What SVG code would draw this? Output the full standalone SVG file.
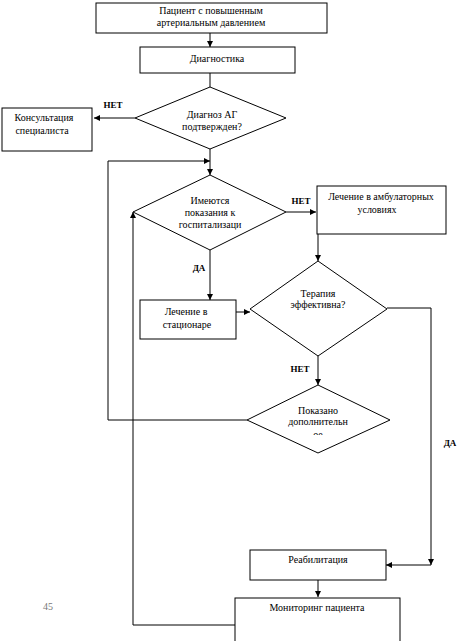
<svg xmlns="http://www.w3.org/2000/svg" width="463" height="641" viewBox="0 0 463 641">
<style>
.s{fill:#fff;stroke:#000;stroke-width:1}
.t{font-family:"Liberation Serif","Times New Roman","DejaVu Serif",serif;font-size:10px;fill:#000;text-anchor:middle}
.l{font-family:"Liberation Serif","Times New Roman","DejaVu Serif",serif;font-size:9px;font-weight:bold;fill:#000;text-anchor:middle}
.c{fill:none;stroke:#000;stroke-width:1}
</style>
<defs>
<marker id="a" markerWidth="6" markerHeight="6" refX="6" refY="3" orient="auto" markerUnits="userSpaceOnUse"><path d="M0,0L6,3L0,6z" fill="#000"/></marker>
<clipPath id="cp"><rect x="247" y="385" width="143" height="50"/></clipPath>
</defs>
<rect width="463" height="641" fill="#fff"/>
<g id="connectors">
<path class="c" d="M210,33V47" marker-end="url(#a)"/>
<path class="c" d="M210,73V87"/>
<path class="c" d="M135,118H94" marker-end="url(#a)"/>
<path class="c" d="M210,149V175" marker-end="url(#a)"/>
<path class="c" d="M247,420H108V161H210" marker-end="url(#a)"/>
<path class="c" d="M286,212H316" marker-end="url(#a)"/>
<path class="c" d="M318,234V261" marker-end="url(#a)"/>
<path class="c" d="M210,250V300" marker-end="url(#a)"/>
<path class="c" d="M236,312H250" marker-end="url(#a)"/>
<path class="c" d="M387,308H431V565" marker-end="url(#a)"/>
<path class="c" d="M431,565H386" marker-end="url(#a)"/>
<path class="c" d="M318,356V385" marker-end="url(#a)"/>
<path class="c" d="M235,625H133V212" marker-end="url(#a)"/>
<path class="c" d="M318,580V597" marker-end="url(#a)"/>
<text class="l" x="113" y="108">НЕТ</text>
<text class="l" x="301" y="204">НЕТ</text>
<text class="l" x="199" y="271">ДА</text>
<text class="l" x="300" y="372">НЕТ</text>
<text class="l" x="450" y="446">ДА</text>
</g>
<g id="n1"><rect class="s" x="96" y="3" width="231" height="30"/><text class="t" x="211" y="14">Пациент с повышенным</text><text class="t" x="211" y="26">артериальным давлением</text></g>
<g id="n2"><rect class="s" x="140" y="47" width="155" height="26"/><text class="t" x="217" y="62">Диагностика</text></g>
<g id="n3"><polygon class="s" points="210,87 286,118 210,149 135,118"/><text class="t" x="212" y="118">Диагноз АГ</text><text class="t" x="212" y="130">подтвержден?</text></g>
<g id="n4"><rect class="s" x="2" y="108" width="90" height="43"/><text class="t" x="44" y="121">Консультация</text><text class="t" x="42" y="134">специалиста</text></g>
<g id="n5"><polygon class="s" points="210,175 286,212 210,250 133,212"/><text class="t" x="210" y="204">Имеются</text><text class="t" x="210" y="216">показания к</text><text class="t" x="210" y="228">госпитализаци</text></g>
<g id="n6"><rect class="s" x="317" y="186" width="129" height="48"/><text class="t" x="381" y="200">Лечение в амбулаторных</text><text class="t" x="377" y="213">условиях</text></g>
<g id="n7"><rect class="s" x="140" y="300" width="96" height="39"/><text class="t" x="186" y="315">Лечение в</text><text class="t" x="187" y="328">стационаре</text></g>
<g id="n8"><polygon class="s" points="318,261 387,309 318,356 250,309"/><text class="t" x="318" y="297">Терапия</text><text class="t" x="318" y="308">эффективна?</text></g>
<g id="n9"><polygon class="s" points="318,385 390,420 318,453 247,420"/><g clip-path="url(#cp)"><text class="t" x="318" y="414">Показано</text><text class="t" x="318" y="425">дополнительн</text><text class="t" x="318" y="438">ое</text></g></g>
<g id="n10"><rect class="s" x="250" y="550" width="136" height="30"/><text class="t" x="318" y="563">Реабилитация</text></g>
<g id="n11"><rect class="s" x="235" y="598" width="165" height="50"/><text class="t" x="317" y="611">Мониторинг пациента</text></g>
<text x="48" y="610" style="font-family:'Liberation Serif',serif;font-size:10px;fill:#777;text-anchor:middle">45</text>
</svg>
